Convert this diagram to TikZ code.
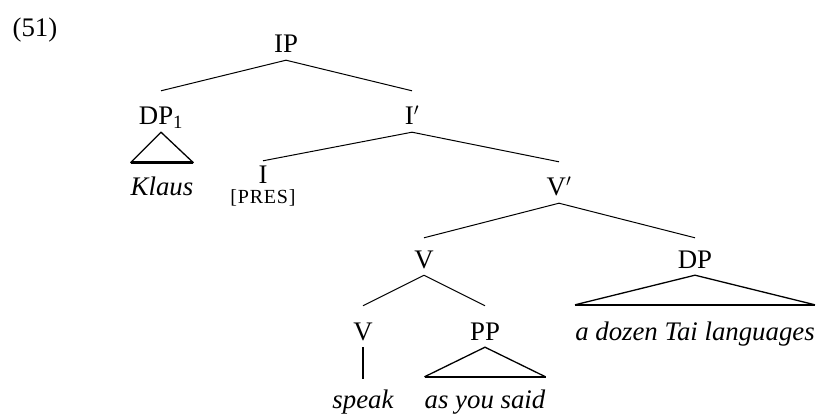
\documentclass[tikz,border=0pt]{standalone}
\usepackage{fontspec}
\setmainfont{Liberation Serif}
\usetikzlibrary{calc}
\begin{document}
\begin{tikzpicture}[x=1pt,y=-1pt,
  big/.style={font=\fontsize{26.8}{32}\selectfont},
  cat/.style={big,anchor=base,inner sep=0pt,text height=34pt,text depth=7pt},
  leaf/.style={anchor=base,inner sep=0pt,text height=#1,text depth=6pt,font=\fontsize{26.8}{32}\selectfont\itshape},
  leaf/.default=33pt,
  feat/.style={anchor=base,inner sep=0pt,font=\fontsize{20}{24}\selectfont\addfontfeature{LetterSpace=4}},
  branch/.style={line width=1pt},
  side/.style={line width=1.3pt,line join=miter},
  roof/.style={line width=2.6pt},
]
\useasboundingbox (0,0) rectangle (816,414);

% example number
\node[big,anchor=base,inner sep=0pt] (num) at (35,37) {(51)};

% category labels
\node[cat] (IP) at (286,53) {IP};
\node[cat] (DP1) at (161,125) {DP\textsubscript{1}};
\node[cat] (Ibar) at (412,125) {I$'$};
\node[cat,text height=23pt] (I) at (263,184) {I};
\node[feat] (pres) at (263,204) {[PRES]};
\node[cat] (Vbar) at (559,196) {V$'$};
\node[cat,text height=30pt] (V) at (424,268) {V};
\node[cat,text height=30pt] (DP) at (695,268) {DP};
\node[cat] (V0) at (363,340) {V};
\node[cat] (PP) at (485,340) {PP};

% terminal strings
\node[leaf] (klaus) at (162,196) {Klaus};
\node[leaf=35pt] (tai) at (695,340) {a dozen Tai languages};
\node[leaf=29pt] (speak) at (363,408) {speak};
\node[leaf=31pt] (said) at (485,408) {as you said};

% branches
\draw[branch] (IP.south) -- (DP1.north);
\draw[branch] (IP.south) -- (Ibar.north);
\draw[branch] (Ibar.south) -- (I.north);
\draw[branch] (Ibar.south) -- (Vbar.north);
\draw[branch] (Vbar.south) -- (V.north);
\draw[branch] (Vbar.south) -- (DP.north);
\draw[branch] (V.south) -- (V0.north);
\draw[branch] (V.south) -- (PP.north);

% unary bar
\draw[roof] (V0.south) -- (speak.north);

% roofs over phrases
\draw[side] (klaus.north west) -- (DP1.south) -- (klaus.north east);
\draw[roof] (klaus.north west) -- (klaus.north east);
\draw[side] (said.north west) -- (PP.south) -- (said.north east);
\draw[roof] (said.north west) -- (said.north east);
\draw[side] (tai.north west) -- (DP.south) -- (tai.north east);
\draw[roof] (tai.north west) -- (tai.north east);
\end{tikzpicture}
\end{document}
